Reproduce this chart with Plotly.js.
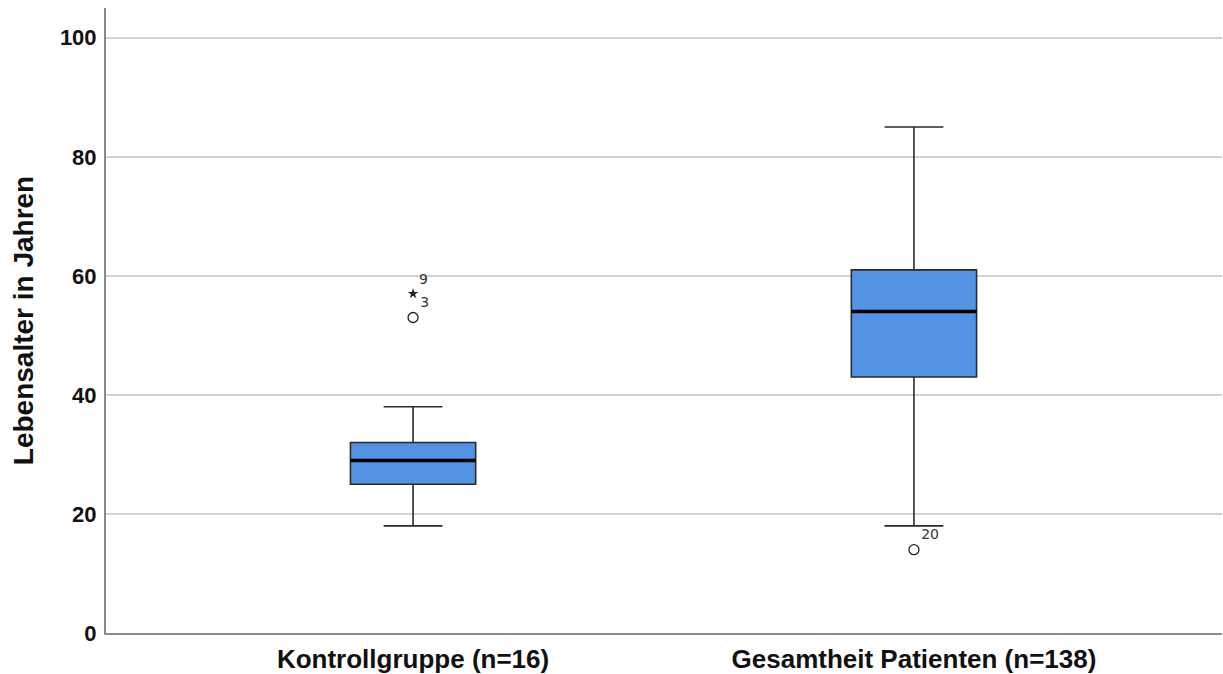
<!DOCTYPE html>
<html>
<head>
<meta charset="utf-8">
<script src="https://cdn.plot.ly/plotly-3.0.1.min.js"></script>
<style>html,body{margin:0;padding:0;background:#fff;}#chart{width:1223px;height:674px;}</style>
</head>
<body>
<div id="chart"></div>
<script>
const categories = ["Kontrollgruppe (n=16)", "Gesamtheit Patienten (n=138)"];
const q1 = [25, 43];
const median = [29, 54];
const q3 = [32, 61];
const lowerWhisker = [18, 18];
const upperWhisker = [38, 85];
const outlierCat = [categories[0], categories[1]];
const outlierVal = [53, 14];
const outlierLabel = ["3", "20"];
const extremeCat = [categories[0]];
const extremeVal = [57];
const extremeLabel = ["9"];
const yTicks = [0, 20, 40, 60, 80, 100];

const boxTrace = {
  type: "box",
  x: categories,
  q1: q1, median: median, q3: q3,
  lowerfence: lowerWhisker, upperfence: upperWhisker,
  boxpoints: false,
  width: 0.25,
  whiskerwidth: 0.47,
  fillcolor: "#5393e3",
  line: {color: "#2a2a2a", width: 1.6},
  hoverinfo: "skip",
  showlegend: false
};
const medianTrace = {
  type: "box",
  x: categories,
  q1: median, median: median, q3: median,
  lowerfence: median, upperfence: median,
  boxpoints: false,
  width: 0.25,
  whiskerwidth: 0,
  fillcolor: "rgba(0,0,0,0)",
  line: {color: "#000000", width: 3.5},
  hoverinfo: "skip",
  showlegend: false
};
const outTrace = {
  type: "scatter", mode: "markers+text",
  x: outlierCat, y: outlierVal, text: outlierLabel,
  textposition: "top right",
  textfont: {family: "DejaVu Sans, sans-serif", size: 14, color: "#333"},
  marker: {symbol: "circle-open", size: 10, color: "#222", line: {width: 1.3}},
  cliponaxis: false, hoverinfo: "skip", showlegend: false
};
const extTrace = {
  type: "scatter", mode: "markers+text",
  x: extremeCat, y: extremeVal, text: extremeLabel,
  textposition: "top right",
  textfont: {family: "DejaVu Sans, sans-serif", size: 14, color: "#333"},
  marker: {symbol: "star", size: 8, color: "#222"},
  cliponaxis: false, hoverinfo: "skip", showlegend: false
};

const layout = {
  width: 1223, height: 674,
  margin: {l: 106, r: 1, t: 8, b: 41},
  paper_bgcolor: "#fff", plot_bgcolor: "#fff",
  font: {family: "Liberation Sans, Arial, sans-serif", color: "#111"},
  xaxis: {
    type: "category",
    range: [-0.613, 1.615],
    showgrid: false, zeroline: false,
    showline: true, linecolor: "#8a8a8a", linewidth: 2,
    ticks: "",
    ticklabelstandoff: 2,
    tickfont: {family: "Liberation Sans, Arial, sans-serif", size: 26, weight: "bold", color: "#111"},
    fixedrange: true
  },
  yaxis: {
    range: [0, 105],
    tickvals: yTicks,
    ticktext: yTicks.map(String),
    showgrid: true, gridcolor: "#d2d2d2", gridwidth: 2,
    zeroline: false,
    showline: true, linecolor: "#8a8a8a", linewidth: 2,
    ticks: "",
    ticklabelstandoff: 3,
    tickfont: {family: "Liberation Sans, Arial, sans-serif", size: 22, weight: "bold", color: "#111"},
    title: {text: "Lebensalter in Jahren", standoff: 18,
            font: {family: "Liberation Sans, Arial, sans-serif", size: 28, weight: "bold", color: "#111"}},
    fixedrange: true
  },
  boxmode: "overlay"
};

Plotly.newPlot("chart", [boxTrace, medianTrace, outTrace, extTrace], layout, {displayModeBar: false, staticPlot: true});
</script>
</body>
</html>
